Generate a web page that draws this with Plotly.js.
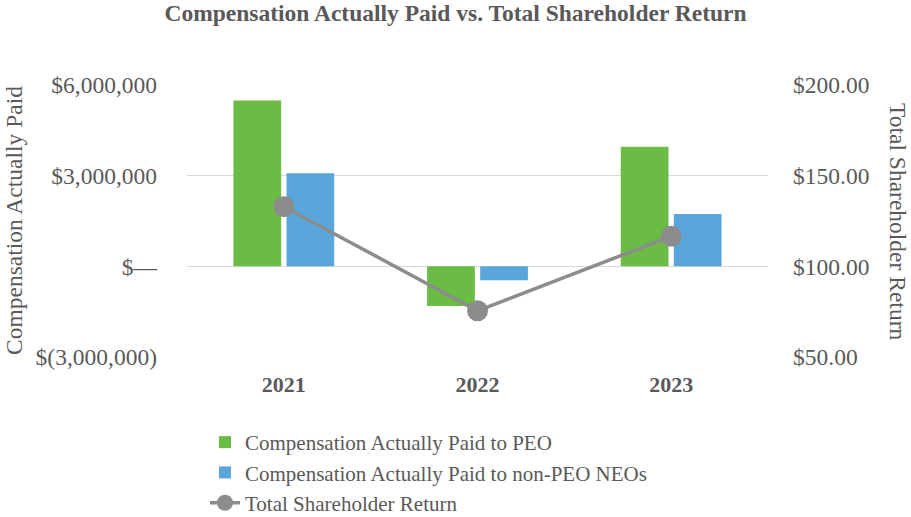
<!DOCTYPE html>
<html>
<head>
<meta charset="utf-8">
<script src="https://cdn.plot.ly/plotly-3.0.1.min.js"></script>
<style>html,body{margin:0;padding:0;background:#fff;}#chart{width:911px;height:517px;}</style>
</head>
<body>
<div id="chart"></div>
<script>
var years = ["2021", "2022", "2023"];
var capPEO = [5490000, -1310000, 3960000];
var capNonPEO = [3080000, -460000, 1730000];
var tsr = [132.9, 75.5, 116.6];
var leftTickVals = [-3000000, 0, 3000000, 6000000];
var leftTickText = ["$(3,000,000)", "$\u2014", "$3,000,000", "$6,000,000"];
var rightTickVals = [50, 100, 150, 200];
var rightTickText = ["$50.00", "$100.00", "$150.00", "$200.00"];

var FONT = "'Liberation Serif', 'Times New Roman', Times, serif";
var GRAY = "#595959";

var traces = [
  {type: "bar", name: "Compensation Actually Paid to PEO", x: years, y: capPEO,
   marker: {color: "#6BBC45"}, hoverinfo: "skip"},
  {type: "bar", name: "Compensation Actually Paid to non-PEO NEOs", x: years, y: capNonPEO,
   marker: {color: "#5AA6DB"}, hoverinfo: "skip"},
  {type: "scatter", mode: "lines+markers", name: "Total Shareholder Return", x: years, y: tsr,
   yaxis: "y2", line: {color: "#8C8C8C", width: 3.5},
   marker: {color: "#8C8C8C", size: 21}, hoverinfo: "skip"}
];

var layout = {
  width: 911, height: 517,
  paper_bgcolor: "#fff", plot_bgcolor: "#fff",
  margin: {l: 187, r: 143, t: 85, b: 160, autoexpand: false},
  font: {family: FONT, color: GRAY, size: 21},
  title: {text: "<b>Compensation Actually Paid vs. Total Shareholder Return</b>",
          font: {family: FONT, size: 23.5, color: GRAY}, x: 0.5, xref: "container", xanchor: "center",
          y: 0.976, yref: "container", yanchor: "middle"},
  barmode: "group", bargap: 0.452, bargroupgap: 0.1,
  xaxis: {type: "category", showgrid: false, zeroline: false, showline: false,
          tickfont: {family: FONT, size: 22, color: GRAY, weight: "bold"},
          ticks: "", ticklabelstandoff: 12},
  yaxis: {range: [-3000000, 6000000], tickvals: leftTickVals, ticktext: leftTickText,
          showgrid: true, gridcolor: "#D9D9D9", gridwidth: 1.5, zeroline: false, showline: false,
          tickfont: {family: FONT, size: 23.5, color: GRAY}, ticks: "", ticklabelstandoff: 29},
  yaxis2: {range: [50, 200], tickvals: rightTickVals, ticktext: rightTickText,
           overlaying: "y", side: "right", showgrid: false, zeroline: false, showline: false,
           tickfont: {family: FONT, size: 23.5, color: GRAY}, ticks: "", ticklabelstandoff: 24},
  showlegend: true,
  legend: {x: 0.031, xanchor: "left", y: -0.239, yanchor: "top", orientation: "v",
           font: {family: FONT, size: 21, color: GRAY}, tracegroupgap: 0, itemwidth: 30,
           bgcolor: "rgba(0,0,0,0)"},
  annotations: [
    {text: "Compensation Actually Paid", xref: "paper", yref: "paper", x: 0, y: 0.5,
     xanchor: "center", yanchor: "middle", textangle: -90, showarrow: false,
     font: {family: FONT, size: 23.5, color: GRAY}, xshift: -173},
    {text: "Total Shareholder Return", xref: "paper", yref: "paper", x: 1.0, y: 0.5,
     xanchor: "center", yanchor: "middle", textangle: 90, showarrow: false,
     font: {family: FONT, size: 23.5, color: GRAY}, xshift: 130}
  ]
};

Plotly.newPlot("chart", traces, layout, {displayModeBar: false, staticPlot: true});
</script>
</body>
</html>
